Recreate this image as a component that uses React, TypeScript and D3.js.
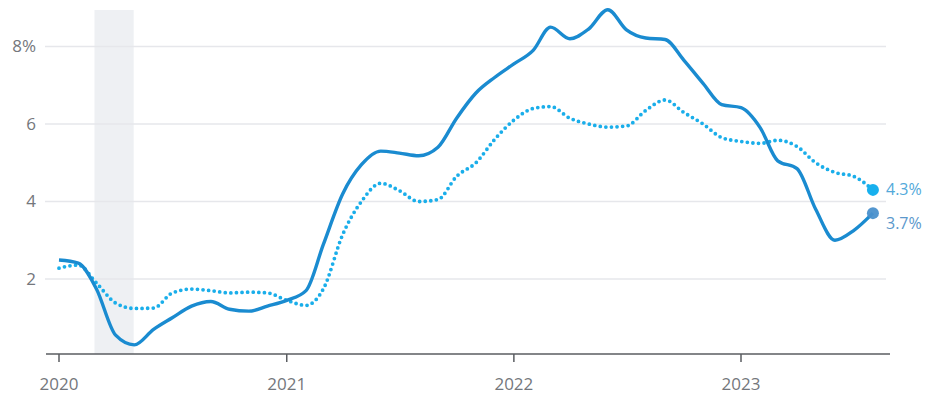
import React from "react";
import * as d3 from "d3";

const startYear = 2020;
const startMonth = 0;
const solidValues = [
  2.49, 2.41, 1.75, 0.55, 0.3, 0.7, 1.0, 1.3, 1.42, 1.22, 1.17, 1.3,
  1.45, 1.7, 2.9, 4.2, 4.95, 5.3, 5.25, 5.18, 5.4, 6.15, 6.8, 7.2,
  7.55, 7.9, 8.5, 8.2, 8.45, 8.95, 8.43, 8.22, 8.18, 7.65, 7.05, 6.5,
  6.42, 5.9, 5.05, 4.85, 3.8, 3.0, 3.25, 3.7,
];
const dottedValues = [
  2.28, 2.36, 1.9, 1.38, 1.24, 1.25, 1.64, 1.74, 1.7, 1.64, 1.66, 1.64,
  1.45, 1.32, 1.75, 3.15, 4.0, 4.47, 4.28, 4.0, 4.05, 4.65, 5.0, 5.6,
  6.1, 6.4, 6.45, 6.15, 6.0, 5.92, 5.95, 6.35, 6.62, 6.3, 6.0, 5.65,
  5.55, 5.5, 5.58, 5.42, 5.0, 4.75, 4.65, 4.3,
];
const yTicks = [2, 4, 6, 8];
const yTickLabels = ["2", "4", "6", "8%"];
const xTickYears = [2020, 2021, 2022, 2023];
const recession = [new Date(2020, 1, 27), new Date(2020, 3, 30)];
const endLabels = ["4.3%", "3.7%"];

const dates = solidValues.map((_, i) => new Date(startYear, startMonth + i, 1));

export default function App() {
  const x = d3
    .scaleTime()
    .domain([new Date(2020, 0, 1), new Date(2023, 0, 1)])
    .range([59, 741]);
  const y = d3.scaleLinear().domain([0, 8]).range([356.5, 46.5]);

  const line = d3
    .line<number>()
    .x((_, i) => x(dates[i]))
    .y((d) => y(d))
    .curve(d3.curveMonotoneX);

  const last = solidValues.length - 1;
  const xEnd = x(dates[last]);

  return (
    <svg
      width={929}
      height={397}
      style={{ position: "absolute", left: 0, top: 0, background: "#fff" }}
      fontFamily="'Open Sans', 'Noto Sans', sans-serif"
    >
      <rect
        x={x(recession[0])}
        y={10}
        width={x(recession[1]) - x(recession[0])}
        height={354 - 10}
        fill="#eef0f3"
      />
      {yTicks.map((t, i) => (
        <g key={t}>
          <line x1={45} x2={886} y1={y(t)} y2={y(t)} stroke="#e6e7eb" strokeWidth={1.5} />
          <text
            x={36}
            y={y(t)}
            dy="0.35em"
            textAnchor="end"
            fontSize={17}
            fill="#74777c"
          >
            {yTickLabels[i]}
          </text>
        </g>
      ))}
      <line x1={46} x2={890} y1={354} y2={354} stroke="#5a5d61" strokeWidth={1.5} />
      {xTickYears.map((yr) => {
        const xx = x(new Date(yr, 0, 1));
        return (
          <g key={yr}>
            <line x1={xx} x2={xx} y1={354} y2={362} stroke="#5a5d61" strokeWidth={1.5} />
            <text x={xx} y={390} textAnchor="middle" fontSize={17} fill="#74777c">
              {yr}
            </text>
          </g>
        );
      })}
      <path
        d={line(dottedValues) || ""}
        fill="none"
        stroke="#1aaeea"
        strokeWidth={3.8}
        strokeLinecap="round"
        strokeDasharray="0 5.6"
      />
      <path
        d={line(solidValues) || ""}
        fill="none"
        stroke="#1a8bd0"
        strokeWidth={3.4}
        strokeLinejoin="round"
      />
      <circle cx={xEnd} cy={y(dottedValues[last])} r={6} fill="#17b0ee" />
      <circle cx={xEnd} cy={y(solidValues[last])} r={6} fill="#4a90cc" opacity={0.95} />
      <text x={886} y={y(dottedValues[last])} dy="0.35em" fontSize={16} fill="#52a9da">
        {endLabels[0]}
      </text>
      <text x={886} y={y(solidValues[last]) + 10} dy="0.35em" fontSize={16} fill="#5b98cc">
        {endLabels[1]}
      </text>
    </svg>
  );
}
